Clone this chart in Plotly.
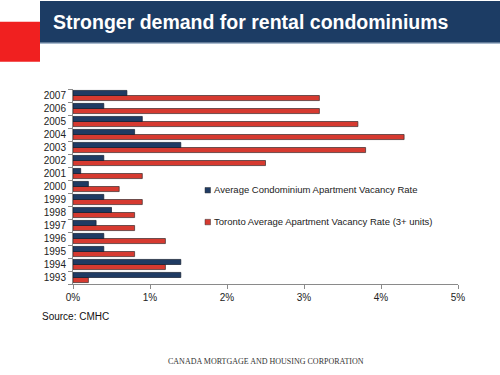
import plotly.graph_objects as go

years = [str(y) for y in range(1993, 2008)]
condo_rate = [1.4, 1.4, 0.4, 0.4, 0.3, 0.5, 0.4, 0.2, 0.1, 0.4, 1.4, 0.8, 0.9, 0.4, 0.7]
toronto_rate = [0.2, 1.2, 0.8, 1.2, 0.8, 0.8, 0.9, 0.6, 0.9, 2.5, 3.8, 4.3, 3.7, 3.2, 3.2]
x_ticks = [0, 1, 2, 3, 4, 5]
x_tick_labels = ["0%", "1%", "2%", "3%", "4%", "5%"]
condo_name = "Average Condominium Apartment Vacancy Rate"
toronto_name = "Toronto Average Apartment Vacancy Rate (3+ units)"

W, H = 500, 375
L, R, T, B = 73, 42, 88.5, 90.5
PW, PH = W - L - R, H - T - B
RED = "#d63a30"
NAVY = "#1f3b63"


def px(x):
    return (x - L) / PW


def py(y):
    return 1 - (y - T) / PH


fig = go.Figure()
fig.add_trace(go.Bar(
    y=years, x=toronto_rate, orientation="h", name=toronto_name,
    marker=dict(color=RED, line=dict(color="#3a2a2a", width=0.7)),
    showlegend=False,
))
fig.add_trace(go.Bar(
    y=years, x=condo_rate, orientation="h", name=condo_name,
    marker=dict(color=NAVY, line=dict(color="#111b2c", width=0.7)),
    showlegend=False,
))

shapes = [
    dict(type="rect", xref="paper", yref="paper", x0=px(40), x1=px(500), y0=py(42), y1=py(0),
         fillcolor="#1c3c64", line=dict(width=0), layer="above"),
    dict(type="line", xref="paper", yref="paper", x0=px(40), x1=px(500), y0=py(42.5), y1=py(42.5),
         line=dict(color="#8aa0bb", width=1)),
    dict(type="rect", xref="paper", yref="paper", x0=px(0), x1=px(40), y0=py(61), y1=py(21),
         fillcolor="#f02020", line=dict(width=0), layer="above"),
]
annotations = [
    dict(text="<b>Stronger demand for rental condominiums</b>", xref="paper", yref="paper",
         x=px(51), y=py(21), xanchor="left", yanchor="middle", showarrow=False,
         font=dict(family="Liberation Sans, Arial, sans-serif", size=19.5, color="white")),
    dict(text="Source: CMHC", xref="paper", yref="paper",
         x=px(40), y=py(317), xanchor="left", yanchor="middle", showarrow=False,
         font=dict(size=10, color="#111")),
    dict(text="CANADA MORTGAGE AND HOUSING CORPORATION", xref="paper", yref="paper",
         x=px(266), y=py(362), xanchor="center", yanchor="middle", showarrow=False,
         font=dict(family="Liberation Serif, Times New Roman, serif", size=8, color="#333")),
]

# manual legend
for name, color, ypos in [(condo_name, NAVY, 190), (toronto_name, RED, 222)]:
    shapes.append(dict(type="rect", xref="paper", yref="paper",
                       x0=px(205), x1=px(210.5), y0=py(ypos + 3), y1=py(ypos - 2.5),
                       fillcolor=color, line=dict(color="#333", width=0.5)))
    annotations.append(dict(text=name, xref="paper", yref="paper",
                            x=px(212), y=py(ypos), xanchor="left", yanchor="middle",
                            showarrow=False, font=dict(size=9.5, color="#222")))

fig.update_layout(
    width=W, height=H,
    margin=dict(l=L, r=R, t=T, b=B, autoexpand=False),
    paper_bgcolor="white", plot_bgcolor="white",
    barmode="group", bargap=0.22, bargroupgap=0,
    font=dict(family="Liberation Sans, Arial, sans-serif", size=10, color="#222"),
    showlegend=False,
    xaxis=dict(
        range=[0, 5], tickmode="array", tickvals=x_ticks, ticktext=x_tick_labels,
        showgrid=False, zeroline=False, showline=True, linecolor="#8a8a8a",
        ticks="outside", ticklen=4, tickcolor="#8a8a8a",
        tickfont=dict(size=10, color="#222"),
    ),
    yaxis=dict(
        type="category", categoryorder="array", categoryarray=years,
        showgrid=False, showline=True, linecolor="#8a8a8a",
        ticks="outside", ticklen=4, tickcolor="#8a8a8a", tickson="boundaries",
        ticklabelstandoff=4,
        tickfont=dict(size=10, color="#222"),
    ),
    shapes=shapes,
    annotations=annotations,
)

fig.write_html("out.html", config={"displayModeBar": False},
               post_script="document.body.style.margin='0';document.body.style.padding='0';")
